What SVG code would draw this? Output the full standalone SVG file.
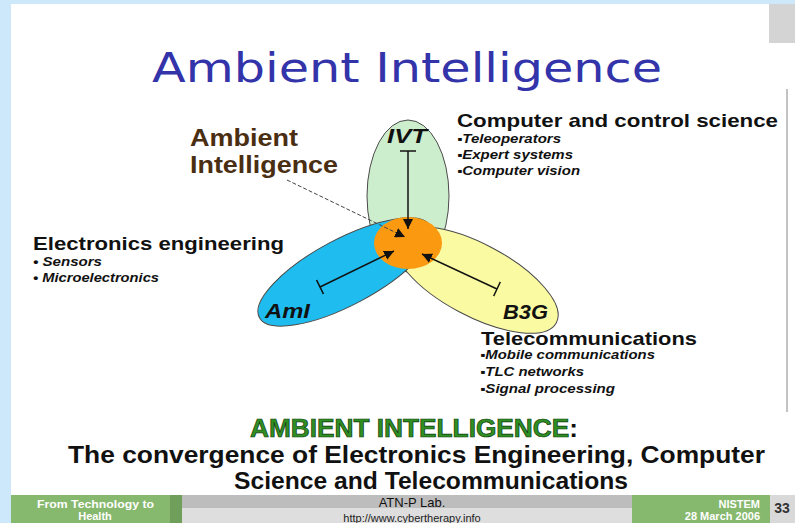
<svg xmlns="http://www.w3.org/2000/svg" width="795" height="523" viewBox="0 0 795 523">
<style>
.lbl{font-family:"Liberation Sans",Arial,sans-serif;fill:#111}
.head{font-weight:bold;font-size:19px}
.item{font-weight:bold;font-style:italic;font-size:12px}
.tag{font-weight:bold;font-style:italic;font-size:21px;fill:#111}
.ell{stroke:#4a4a4a;stroke-width:1}
.conn{stroke:#111;stroke-width:1.5;fill:none}
.foot{font-family:"Liberation Sans",Arial,sans-serif;font-weight:bold;font-size:11px;fill:#fff}
</style>
<defs>
<marker id="ah" viewBox="0 0 10 10" refX="10" refY="5" markerWidth="10" markerHeight="10" markerUnits="userSpaceOnUse" orient="auto">
<path d="M0,0 L10,5 L0,10 z" fill="#111"/>
</marker>
<marker id="tb" viewBox="0 0 4 16" refX="2" refY="8" markerWidth="4" markerHeight="16" markerUnits="userSpaceOnUse" orient="auto">
<path d="M2,0 L2,16" stroke="#111" stroke-width="1.5"/>
</marker>
</defs>
<rect x="0" y="0" width="795" height="523" fill="#cde8fb"/>
<rect x="11" y="4" width="784" height="519" fill="#ffffff"/>
<rect x="769" y="4" width="26" height="39" fill="#d4d4d4"/>
<line x1="787" y1="89" x2="787" y2="412" stroke="#9a9a9a" stroke-width="1.2"/>

<text x="152" y="82" font-family="'DejaVu Sans',Verdana,sans-serif" font-size="41" fill="#3333aa" textLength="510" lengthAdjust="spacingAndGlyphs">Ambient Intelligence</text>

<g id="ivt">
<ellipse class="ell" cx="408" cy="196" rx="41" ry="76" fill="#cdeecd"/>
</g>
<g id="b3g">
<ellipse class="ell" cx="476" cy="280" rx="91" ry="36" fill="#fafaa2" transform="rotate(28 476 280)"/>
</g>
<g id="aml">
<ellipse class="ell" cx="345" cy="272" rx="97" ry="33" fill="#1fbdef" transform="rotate(-28 345 272)"/>
</g>
<g id="core">
<ellipse cx="408" cy="243" rx="34" ry="26" fill="#fb9a10"/>
</g>
<g id="tags">
<text class="lbl tag" x="387" y="143" textLength="40" lengthAdjust="spacingAndGlyphs">IVT</text>
<text class="lbl tag" x="265" y="318" textLength="45" lengthAdjust="spacingAndGlyphs">AmI</text>
<text class="lbl tag" x="503" y="319" textLength="45" lengthAdjust="spacingAndGlyphs">B3G</text>
</g>

<g id="connectors">
<line class="conn" x1="408" y1="151" x2="408" y2="229" marker-start="url(#tb)" marker-end="url(#ah)"/>
<line class="conn" x1="320" y1="287" x2="394" y2="251" marker-start="url(#tb)" marker-end="url(#ah)"/>
<line class="conn" x1="497" y1="289" x2="422" y2="254" marker-start="url(#tb)" marker-end="url(#ah)"/>
<line x1="287" y1="180" x2="405" y2="237" stroke="#444" stroke-width="1" stroke-dasharray="4,2" marker-end="url(#ah)"/>
</g>

<g id="ambient-label">
<text x="190" y="146" font-family="'Liberation Sans',Arial,sans-serif" font-weight="bold" font-size="24" fill="#4a2e12" textLength="108" lengthAdjust="spacingAndGlyphs">Ambient</text>
<text x="190" y="173" font-family="'Liberation Sans',Arial,sans-serif" font-weight="bold" font-size="24" fill="#4a2e12" textLength="148" lengthAdjust="spacingAndGlyphs">Intelligence</text>
</g>

<g id="computer">
<text class="lbl head" x="457" y="127" textLength="321" lengthAdjust="spacingAndGlyphs">Computer and control science</text>
<text class="lbl item" x="457" y="143" textLength="104" lengthAdjust="spacingAndGlyphs">▪Teleoperators</text>
<text class="lbl item" x="457" y="159" textLength="116" lengthAdjust="spacingAndGlyphs">▪Expert systems</text>
<text class="lbl item" x="457" y="175" textLength="123" lengthAdjust="spacingAndGlyphs">▪Computer vision</text>
</g>

<g id="electronics">
<text class="lbl head" x="33" y="250" textLength="251" lengthAdjust="spacingAndGlyphs">Electronics engineering</text>
<text class="lbl item" x="33" y="266" textLength="69" lengthAdjust="spacingAndGlyphs">• Sensors</text>
<text class="lbl item" x="33" y="282" textLength="126" lengthAdjust="spacingAndGlyphs">• Microelectronics</text>
</g>

<g id="telecom">
<text class="lbl head" x="481" y="345" textLength="216" lengthAdjust="spacingAndGlyphs">Telecommunications</text>
<text class="lbl item" x="480" y="359" textLength="175" lengthAdjust="spacingAndGlyphs">▪Mobile communications</text>
<text class="lbl item" x="480" y="376" textLength="104" lengthAdjust="spacingAndGlyphs">▪TLC networks</text>
<text class="lbl item" x="480" y="393" textLength="135" lengthAdjust="spacingAndGlyphs">▪Signal processing</text>
</g>

<g id="conclusion">
<text x="250" y="437" font-family="'Liberation Sans',Arial,sans-serif" font-weight="bold" font-size="25" fill="#2f8f22" stroke="#0f3a0f" stroke-width="0.7" textLength="328" lengthAdjust="spacingAndGlyphs">AMBIENT INTELLIGENCE<tspan fill="#111" stroke="none">:</tspan></text>
<text x="68" y="463" font-family="'Liberation Sans',Arial,sans-serif" font-weight="bold" font-size="23" fill="#111" textLength="697" lengthAdjust="spacingAndGlyphs">The convergence of Electronics Engineering, Computer</text>
<text x="234" y="489" font-family="'Liberation Sans',Arial,sans-serif" font-weight="bold" font-size="23" fill="#111" textLength="394" lengthAdjust="spacingAndGlyphs">Science and Telecommunications</text>
</g>

<g id="footer">
<rect x="11" y="495" width="159" height="28" fill="#86b86e"/>
<rect x="170" y="495" width="12" height="28" fill="#6f9f5b"/>
<rect x="182" y="495" width="450" height="13" fill="#bdbdbd"/>
<rect x="182" y="508" width="450" height="15" fill="#dedede"/>
<rect x="632" y="495" width="138" height="28" fill="#86b86e"/>
<rect x="770" y="495" width="25" height="28" fill="#d9d9d9"/>
<text class="foot" x="37" y="508" textLength="117" lengthAdjust="spacingAndGlyphs">From Technology to</text>
<text class="foot" x="95" y="520" text-anchor="middle">Health</text>
<text x="412" y="507" text-anchor="middle" font-family="'Liberation Sans',Arial,sans-serif" font-size="13" fill="#111">ATN-P Lab.</text>
<text x="412" y="522" text-anchor="middle" font-family="'Liberation Sans',Arial,sans-serif" font-size="11" fill="#222">http://www.cybertherapy.info</text>
<text class="foot" x="760" y="508" text-anchor="end">NISTEM</text>
<text class="foot" x="760" y="520" text-anchor="end">28 March 2006</text>
<text x="782" y="513" text-anchor="middle" font-family="'Liberation Sans',Arial,sans-serif" font-weight="bold" font-size="14" fill="#333">33</text>
</g>
</svg>
